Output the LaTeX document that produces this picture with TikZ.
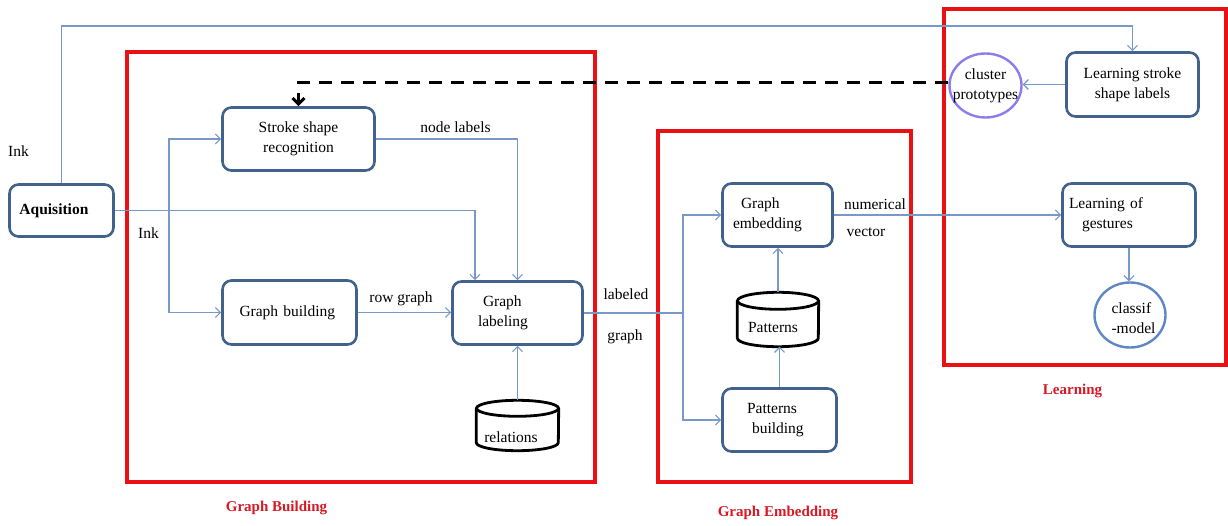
\documentclass[tikz,border=0pt]{standalone}
\usepackage{fontspec}
\setmainfont{Liberation Serif}
\usetikzlibrary{arrows.meta,shapes.geometric,calc}
\definecolor{boxc}{RGB}{65,98,140}
\definecolor{linec}{RGB}{120,152,200}
\definecolor{redf}{RGB}{235,16,20}
\definecolor{redt}{RGB}{215,25,35}
\definecolor{cpc}{RGB}{140,125,235}
\definecolor{cmc}{RGB}{95,135,195}
\newcommand\drawcyl[3]{%
  \draw[cylline] ([yshift=-#3pt]#1.north) ellipse [x radius=#2pt, y radius=#3pt];
  \draw[cylline] ([yshift=-#3pt]#1.north west) -- ([yshift=#3pt]#1.south west)
     arc[start angle=180,end angle=360,x radius=#2pt,y radius=#3pt] -- ([yshift=-#3pt]#1.north east);
}
\begin{document}
\begin{tikzpicture}[x=1pt,y=-1pt,
  every node/.style={font=\fontsize{15.5}{20}\selectfont},
  box/.style={draw=boxc, line width=2.6pt, rounded corners=9pt, fill=white, inner sep=0pt, align=center},
  link/.style={draw=linec, line width=1.1pt, -{Straight Barb[length=5pt,width=10pt]}},
  plain/.style={draw=linec, line width=1.1pt},
  dashline/.style={draw=black, line width=3pt, dash pattern=on 13pt off 9pt, -{Straight Barb[length=6pt,width=12pt]}},
  cylline/.style={draw=black, line width=2.8pt},
  cylnode/.style={inner sep=0pt, rectangle},
  redframe/.style={draw=redf, line width=4pt},
  redlab/.style={font=\fontsize{15}{18}\selectfont\bfseries, text=redt}]
\useasboundingbox (0,0) rectangle (1228,526);

% frames
\draw[redframe] (127,52) rectangle (595,482);
\draw[redframe] (658,131) rectangle (911,482);
\draw[redframe] (944,9) rectangle (1225.5,365);

% boxes
\node[box, minimum width=104pt, minimum height=52pt, text width=84pt, align=left,
      font=\fontsize{15.5}{20}\selectfont\bfseries] (aq) at (61.5,210.5) {Aquisition};
\node[box, minimum width=152pt, minimum height=63pt] (ssr) at (298.5,139) {Stroke shape\\recognition};
\node[box, minimum width=134pt, minimum height=64pt, text width=100pt, align=left] (gb) at (289.5,312.5) {Graph building};
\node[box, minimum width=130pt, minimum height=63pt, text width=79pt, align=left] (gl) at (517.5,313) {\hspace*{5pt}Graph\\labeling};
\node[box, minimum width=110pt, minimum height=63pt, text width=89pt, align=left] (ge) at (777.5,215) {\hspace*{8pt}Graph\\embedding};
\node[box, minimum width=114pt, minimum height=63pt, text width=65pt, align=left] (pb) at (779.5,420) {Patterns\\\hspace*{5pt}building};
\node[box, minimum width=132pt, minimum height=64pt] (lss) at (1132.5,84.5) {Learning stroke\\shape labels};
\node[box, minimum width=133pt, minimum height=63pt, text width=120pt, align=left] (lg) at (1129,215) {Learning of\\\hspace*{13pt}gestures};

% cylinders
\node[cylnode, minimum width=82pt, minimum height=50pt,
      label={[xshift=-6.5pt,yshift=-11.5pt]center:relations}] (rel) at (517.5,425.5) {};
\drawcyl{rel}{41}{8}
\node[cylnode, minimum width=81pt, minimum height=54pt,
      label={[xshift=-5pt,yshift=-8.5pt]center:Patterns}] (pat) at (778,319.5) {};
\drawcyl{pat}{40.5}{8.5}

% circles
\node[ellipse, draw=cpc, line width=2.4pt, fill=white, minimum width=72pt, minimum height=64pt, inner sep=0pt,
      label={[align=center]center:{cluster\\prototypes}}] (cp) at (985.5,85.5) {};
\node[ellipse, draw=cmc, line width=2.4pt, fill=white, minimum width=71pt, minimum height=65pt, inner sep=0pt,
      label={[align=left,xshift=3.5pt,yshift=-3pt]center:{classif\\-model}}] (cm) at (1130,315) {};

% connectors
\draw[link] (aq.north) -- (aq.north |- 0,26) -| (lss.north);
\draw[link] (aq.east) -| ([xshift=-42.5pt]gl.north);
\coordinate (j1) at (169,210.5);
\draw[link] (j1) |- (ssr.west);
\draw[link] (j1) |- (gb.west);
\draw[link] (ssr.east) -| (gl.north);
\draw[link] (gb.east) -- (gb.east -| gl.west);
\draw[link] (rel.north) -- (rel.north |- gl.south);
\coordinate (j2) at (683,313);
\draw[plain] (gl.east) -- (j2);
\draw[link] (j2) |- (ge.west);
\draw[link] (j2) |- (pb.west);
\draw[link] (pb.north) -- (pb.north |- pat.south);
\draw[link] (pat.north) -- (pat.north |- ge.south);
\draw[link] (ge.east) -- (ge.east -| lg.west);
\draw[link] (lss.west) -- (lss.west -| cp.east);
\draw[link] (lg.south) -- (lg.south |- cm.north);
\draw[dashline] ([yshift=2.5pt]cp.west) -| (ssr.north);

% labels
\node (ink1) at (18.5,151) {Ink};
\node (ink2) at (148.5,233) {Ink};
\node (nl) at (455.5,127) {node labels};
\node (rg) at (401,299) {row graph};
\node (lab1) at (626,294) {labeled};
\node (lab2) at (625,337) {graph};
\node (num1) at (875,204) {numerical};
\node (num2) at (866,232) {vector};

\node[redlab] (tgb) at (276.5,508) {Graph Building};
\node[redlab] (tge) at (778,513) {Graph Embedding};
\node[redlab] (tl) at (1072.5,391) {Learning};
\end{tikzpicture}
\end{document}
